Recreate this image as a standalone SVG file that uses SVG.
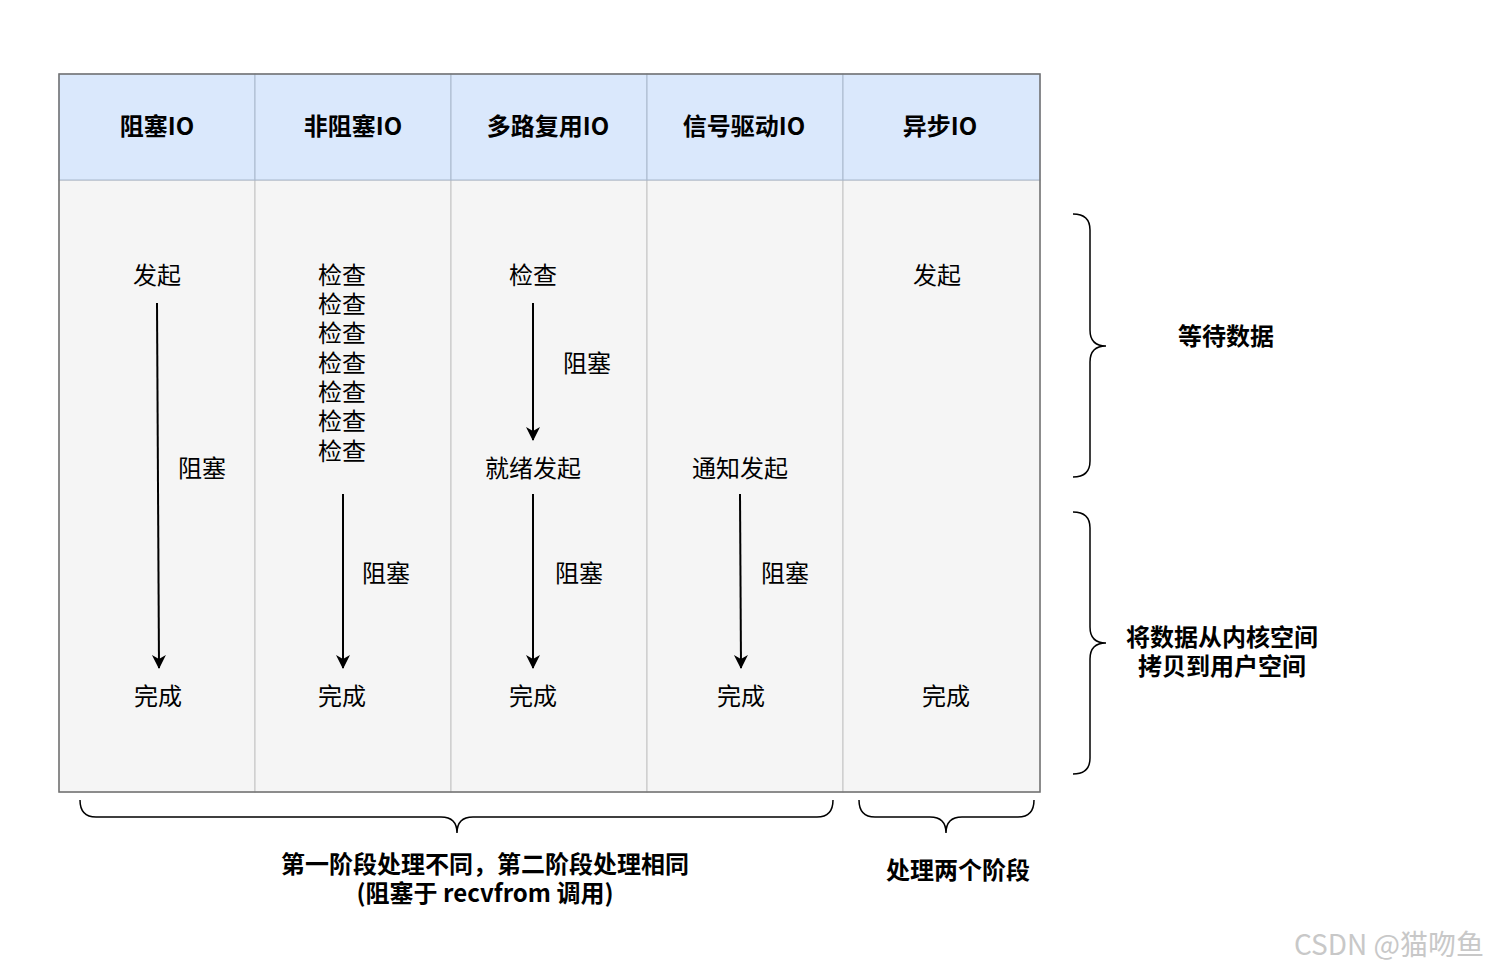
<svg xmlns="http://www.w3.org/2000/svg" width="1489" height="971" viewBox="0 0 1489 971">
<defs>
<style>
text{font-family:"Noto Sans CJK SC","Liberation Sans",sans-serif;fill:#000;text-anchor:middle;dominant-baseline:central}
.h{font-size:24px;font-weight:bold}
.t{font-size:24px}
.b{font-size:24px;font-weight:bold}
.hd{fill:#dae8fc;stroke:#a9b8cc;stroke-width:1}
.bd{fill:#f5f5f5;stroke:#c4c4c4;stroke-width:1}
.ar{stroke:#000;stroke-width:2;fill:none;marker-end:url(#ah)}
.br{stroke:#000;stroke-width:1.5;fill:none}
</style>
<marker id="ah" markerWidth="16" markerHeight="16" refX="13" refY="7" orient="auto" markerUnits="userSpaceOnUse">
<path d="M0,0 L14,7 L0,14 L4,7 Z" fill="#000"/>
</marker>
</defs>
<rect width="1489" height="971" fill="#fff"/>
<g id="table">
<rect class="bd" x="59" y="180" width="196" height="612"/>
<rect class="bd" x="255" y="180" width="196" height="612"/>
<rect class="bd" x="451" y="180" width="196" height="612"/>
<rect class="bd" x="647" y="180" width="196" height="612"/>
<rect class="bd" x="843" y="180" width="197" height="612"/>
<rect class="hd" x="59" y="74" width="196" height="106"/>
<rect class="hd" x="255" y="74" width="196" height="106"/>
<rect class="hd" x="451" y="74" width="196" height="106"/>
<rect class="hd" x="647" y="74" width="196" height="106"/>
<rect class="hd" x="843" y="74" width="197" height="106"/>
<rect x="59" y="74" width="981" height="718" fill="none" stroke="#707070" stroke-width="1.5"/>
</g>
<g id="col1">
<text class="h" x="157" y="124">阻塞IO</text>
<text class="t" x="157" y="273">发起</text>
<text class="t" x="202" y="466">阻塞</text>
<text class="t" x="158" y="694">完成</text>
</g>
<g id="col2">
<text class="h" x="353" y="124">非阻塞IO</text>
<text class="t"><tspan x="342" y="273">检查</tspan><tspan x="342" y="302">检查</tspan><tspan x="342" y="331">检查</tspan><tspan x="342" y="361">检查</tspan><tspan x="342" y="390">检查</tspan><tspan x="342" y="419">检查</tspan><tspan x="342" y="449">检查</tspan></text>
<text class="t" x="386" y="571">阻塞</text>
<text class="t" x="342" y="694">完成</text>
</g>
<g id="col3">
<text class="h" x="548" y="124">多路复用IO</text>
<text class="t" x="533" y="273">检查</text>
<text class="t" x="587" y="361">阻塞</text>
<text class="t" x="533" y="466">就绪发起</text>
<text class="t" x="579" y="571">阻塞</text>
<text class="t" x="533" y="694">完成</text>
</g>
<g id="col4">
<text class="h" x="744" y="124">信号驱动IO</text>
<text class="t" x="740" y="466">通知发起</text>
<text class="t" x="785" y="571">阻塞</text>
<text class="t" x="741" y="694">完成</text>
</g>
<g id="col5">
<text class="h" x="940" y="124">异步IO</text>
<text class="t" x="937" y="273">发起</text>
<text class="t" x="946" y="694">完成</text>
</g>
<g id="connectors">
<path class="ar" d="M157,303 L159,668"/>
<path class="ar" d="M343,494 L343,668"/>
<path class="ar" d="M533,303 L533,440"/>
<path class="ar" d="M533,494 L533,668"/>
<path class="ar" d="M740,494 L741,668"/>
</g>
<g id="braces">
<path class="br" d="M1073,214 Q1090,214 1090,230 L1090,330 Q1090,346 1106,346 Q1090,346 1090,362 L1090,461 Q1090,477 1073,477"/>
<path class="br" d="M1073,512 Q1090,512 1090,528 L1090,627 Q1090,643 1106,643 Q1090,643 1090,659 L1090,758 Q1090,774 1073,774"/>
<path class="br" d="M80,800 Q80,817 96,817 L441,817 Q457,817 457,833 Q457,817 473,817 L817,817 Q833,817 833,800"/>
<path class="br" d="M859,800 Q859,817 875,817 L930,817 Q946,817 946,833 Q946,817 962,817 L1018,817 Q1034,817 1034,800"/>
</g>
<g id="labels">
<text class="b" x="1226" y="334">等待数据</text>
<text class="b"><tspan x="1222" y="635">将数据从内核空间</tspan><tspan x="1222" y="664">拷贝到用户空间</tspan></text>
<text class="b"><tspan x="485" y="862">第一阶段处理不同，第二阶段处理相同</tspan><tspan x="485" y="891">(阻塞于 recvfrom 调用)</tspan></text>
<text class="b" x="958" y="868">处理两个阶段</text>
<text x="1389" y="943" style="font-size:28px;fill:#c8c8c8">CSDN @猫吻鱼</text>
</g>
</svg>
